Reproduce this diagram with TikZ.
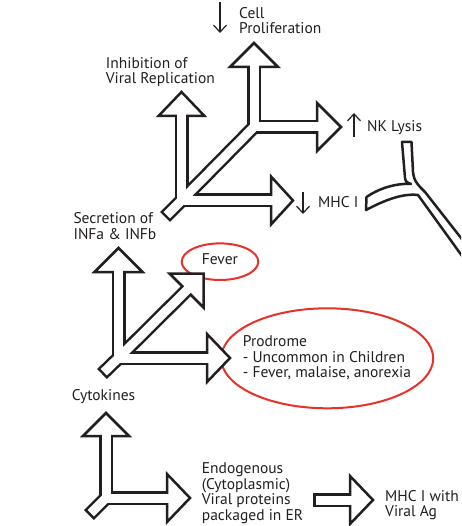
\documentclass[tikz,border=0pt]{standalone}
\usepackage{fontspec}
\setmainfont{PT Sans}
\usetikzlibrary{calc,arrows.meta,shapes.geometric}
\definecolor{ink}{RGB}{35,31,32}
\definecolor{ovalred}{RGB}{230,50,40}
\begin{document}
\begin{tikzpicture}[x=1pt,y=-1pt,
  shaftblack/.style={line width=14pt, draw=ink},
  shaftwhite/.style={line width=9pt, draw=white},
  headshape/.style={fill=white, draw=ink, line width=2.5pt, line join=miter},
  lbl/.style={anchor=base west, inner sep=0pt, font=\fontsize{15.5}{15.3}\selectfont, text=ink},
  symarrow/.style={draw=ink, line width=1.2pt, -{Straight Barb[length=7pt,width=13pt]}},
  oval/.style={ellipse, draw=ovalred, line width=2pt, inner sep=0pt}]
\useasboundingbox (0,0) rectangle (461,526);
\fill[white] (0,0) rectangle (461,526);

% ---------- ovals ----------
\node[oval, minimum width=76.6pt, minimum height=36.6pt] (feverOval) at (220,261.7) {};
\node[oval, minimum width=212pt, minimum height=100pt] (prodOval) at (327.2,358.3) {};

% ---------- coordinates ----------
% structure A
\coordinate (J1) at (181.5,200.5);
\coordinate (J2) at (254,127);
\coordinate (IB) at (181.5,116);
\coordinate (MB) at (271,200.5);
\coordinate (T1) at (165,217);
\coordinate (CB) at (254,67);
\coordinate (NB) at (317,127);
% structure B
\coordinate (J3) at (118.5,358);
\coordinate (SB) at (118.5,272);
\coordinate (PB) at (207,358);
\coordinate (FB) at (186.5,290.5);
\coordinate (T3) at (102,374);
% structure C
\coordinate (J4) at (106,498);
\coordinate (UB) at (106,436);
\coordinate (RB) at (167,498);
\coordinate (T4) at (89,515);
% structure D
\coordinate (DS) at (313,500);
\coordinate (DB) at (350,500);

% ---------- black shafts ----------
\foreach \a/\b in {J1/IB, J1/MB, J1/J2, J1/T1, J2/CB, J2/NB,
                   J3/SB, J3/PB, J3/FB, J3/T3,
                   J4/UB, J4/RB, J4/T4, DS/DB}
  \draw[shaftblack] (\a) -- (\b);
\foreach \j in {J1,J2,J3,J4}
  \fill[ink] (\j) circle[radius=7pt];

% ---------- heads ----------
\filldraw[headshape] (158.5,116) -- (181.5,92) -- (204.5,116) -- cycle;
\filldraw[headshape] (271,176.5) -- (293,200.5) -- (271,224.5) -- cycle;
\filldraw[headshape] (230,67) -- (254,43) -- (278,67) -- cycle;
\filldraw[headshape] (317,103) -- (341,127) -- (317,151) -- cycle;
\filldraw[headshape] (94.5,272) -- (118.5,248) -- (142.5,272) -- cycle;
\filldraw[headshape] (207,334) -- (230,358) -- (207,382) -- cycle;
\filldraw[headshape] (169.5,273.5) -- (203.5,273.5) -- (203.5,307.5) -- cycle;
\filldraw[headshape] (83,436) -- (106,413) -- (129,436) -- cycle;
\filldraw[headshape] (167,474) -- (190,498) -- (167,522) -- cycle;
\filldraw[headshape] (350,476) -- (373,500) -- (350,524) -- cycle;

% ---------- white inner shafts ----------
\foreach \a/\b in {J1/IB, J1/MB, J2/CB, J2/NB, J3/SB, J3/PB, J3/FB, J4/UB, J4/RB}
  \draw[shaftwhite] (\a) -- ($(\b)!-3pt!(\a)$);
\draw[shaftwhite] (J1) -- (J2);
\foreach \a/\b in {J1/T1, J3/T3, J4/T4}
  \draw[shaftwhite] (\a) -- ($(\b)!2.5pt!(\a)$);
\draw[shaftwhite] ($(DS)!2.5pt!(DB)$) -- ($(DB)!-3pt!(DS)$);
\foreach \j in {J1,J2,J3,J4}
  \fill[white] (\j) circle[radius=4.5pt];

% ---------- receptor shape at right ----------
\begin{scope}
\clip (0,0) rectangle (461,526);
\draw[ink, line width=2.5pt, line join=round]
  (472,252) -- (425,192) .. controls (419,186) and (414,182) .. (413,172)
  -- (411.5,142) -- (402,142) -- (405,178)
  .. controls (405.5,182) and (408,183.5) .. (411,184)
  .. controls (395,183) and (378,189) .. (366.5,197)
  -- (366,210) .. controls (383,201) and (402,193) .. (418,195) -- (470,267);
\end{scope}

% ---------- small up/down arrows ----------
\coordinate (cellA1) at (220,2);   \coordinate (cellA2) at (220,33);
\coordinate (nkA1) at (354,137);   \coordinate (nkA2) at (354,113);
\coordinate (mhcA1) at (303,192);  \coordinate (mhcA2) at (303,214);
\draw[symarrow] (cellA1) -- (cellA2);
\draw[symarrow] (nkA1) -- (nkA2);
\draw[symarrow] (mhcA1) -- (mhcA2);

% ---------- labels ----------
\node[lbl] (cell1) at (239,18.3) {Cell};
\node[lbl] (cell2) at (239,33.3) {Proliferation};
\node[lbl] (inh1) at (105.7,68.3) {Inhibition of};
\node[lbl] (inh2) at (105.7,83.3) {Viral Replication};
\node[lbl] (nk) at (367,131.7) {NK Lysis};
\node[lbl] (mhc) at (318,207.3) {MHC I};
\node[lbl] (sec1) at (73.3,224) {Secretion of};
\node[lbl] (sec2) at (73.3,239) {INFa \& INFb};
\node[lbl] (fever) at (201.7,264) {Fever};
\node[lbl] (pro1) at (242.7,346.7) {Prodrome};
\node[lbl] (pro2) at (242.7,362.3) {- Uncommon in Children};
\node[lbl] (pro3) at (242.7,377.3) {- Fever, malaise, anorexia};
\node[lbl] (cyto) at (71.7,400.7) {Cytokines};
\node[lbl] (endo1) at (201.7,473.3) {Endogenous};
\node[lbl] (endo2) at (201.7,489) {(Cytoplasmic)};
\node[lbl] (endo3) at (201.7,504.5) {Viral proteins};
\node[lbl] (endo4) at (201.7,520) {packaged in ER};
\node[lbl] (mhcv1) at (385,501.7) {MHC I with};
\node[lbl] (mhcv2) at (385,516.7) {Viral Ag};
\end{tikzpicture}
\end{document}
